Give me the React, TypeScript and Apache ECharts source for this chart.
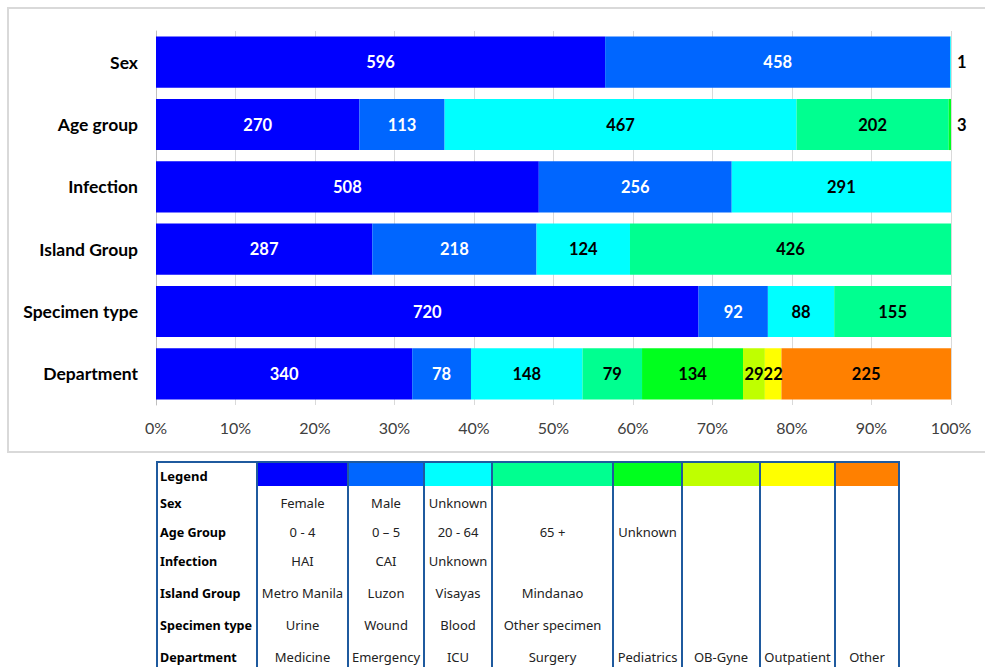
import React, { useEffect, useRef } from "react";
import * as echarts from "echarts";

const categories = ["Sex", "Age group", "Infection", "Island Group", "Specimen type", "Department"];
const sexCounts = [596, 458, 1];
const ageCounts = [270, 113, 467, 202, 3];
const infectionCounts = [508, 256, 291];
const islandCounts = [287, 218, 124, 426];
const specimenCounts = [720, 92, 88, 155];
const departmentCounts = [340, 78, 148, 79, 134, 29, 22, 225];
const allCounts = [sexCounts, ageCounts, infectionCounts, islandCounts, specimenCounts, departmentCounts];

const groupColors = ["#0000FF", "#0066FF", "#00FFFF", "#00FF90", "#00FF1E", "#BFFF00", "#FFFF00", "#FF8000"];
const labelColors = ["#FFFFFF", "#FFFFFF", "#000000", "#000000", "#000000", "#000000", "#000000", "#000000"];
const xTicks = [0, 10, 20, 30, 40, 50, 60, 70, 80, 90, 100];

const legendRowNames = ["Sex", "Age Group", "Infection", "Island Group", "Specimen type", "Department"];
const legendCol1 = ["Female", "0 - 4", "HAI", "Metro Manila", "Urine", "Medicine"];
const legendCol2 = ["Male", "0 – 5", "CAI", "Luzon", "Wound", "Emergency"];
const legendCol3 = ["Unknown", "20 - 64", "Unknown", "Visayas", "Blood", "ICU"];
const legendCol4 = ["", "65 +", "", "Mindanao", "Other specimen", "Surgery"];
const legendCol5 = ["", "Unknown", "", "", "", "Pediatrics"];
const legendCol6 = ["", "", "", "", "", "OB-Gyne"];
const legendCol7 = ["", "", "", "", "", "Outpatient"];
const legendCol8 = ["", "", "", "", "", "Other"];
const legendCols = [legendCol1, legendCol2, legendCol3, legendCol4, legendCol5, legendCol6, legendCol7, legendCol8];

export default function App() {
  const ref = useRef<HTMLDivElement>(null);
  useEffect(() => {
    if (!ref.current) return;
    const chart = echarts.init(ref.current, null, { renderer: "svg" });
    const totals = allCounts.map((a) => a.reduce((s, v) => s + v, 0));

    const series = groupColors.map((color, gi) => ({
      name: "G" + (gi + 1),
      type: "bar",
      stack: "total",
      barCategoryGap: "18%",
      itemStyle: { color },
      data: allCounts.map((counts, ci) => {
        const raw = counts[gi];
        if (raw === undefined) return { value: null, raw: null };
        const pct = (raw / totals[ci]) * 100;
        const tiny = pct < 1;
        return {
          value: pct,
          raw,
          label: tiny
            ? { position: "right", distance: 6, color: "#000" }
            : { position: "inside", color: labelColors[gi] },
        };
      }),
      label: {
        show: true,
        fontFamily: "Lato",
        fontWeight: "bold",
        fontSize: 16.5,
        formatter: (p: any) => (p.data && p.data.raw != null ? String(p.data.raw) : ""),
      },
    }));

    const colEdges = [157, 257, 348, 424, 492, 613, 682, 760, 835, 899];
    const rowY = [503, 532, 561, 593, 625, 657];
    const lineColor = "#1F5A9E";
    const graphics: any[] = [];
    graphics.push({
      type: "rect",
      shape: { x: 8, y: 8, width: 990, height: 444 },
      style: { fill: "none", stroke: "#D9D9D9", lineWidth: 2 },
      silent: true,
    });
    groupColors.forEach((c, i) => {
      graphics.push({
        type: "rect",
        shape: { x: colEdges[i + 1] + 1, y: 463, width: colEdges[i + 2] - colEdges[i + 1] - 2, height: 23 },
        style: { fill: c },
      });
    });
    graphics.push({
      type: "text",
      x: 160,
      y: 476,
      style: { text: "Legend", fontFamily: "Noto Sans", fontWeight: "bold", fontSize: 13, fill: "#000", verticalAlign: "middle" },
    });
    legendRowNames.forEach((n, ri) => {
      graphics.push({
        type: "text",
        x: 160,
        y: rowY[ri],
        style: { text: n, fontFamily: "Noto Sans", fontWeight: "bold", fontSize: 12.6, fill: "#000", verticalAlign: "middle" },
      });
    });
    legendCols.forEach((col, ci) => {
      const cx = (colEdges[ci + 1] + colEdges[ci + 2]) / 2;
      col.forEach((t, ri) => {
        if (!t) return;
        graphics.push({
          type: "text",
          x: cx,
          y: rowY[ri],
          style: { text: t, fontFamily: "Noto Sans", fontSize: 13, fill: "#222", align: "center", verticalAlign: "middle" },
        });
      });
    });
    graphics.push({
      type: "line",
      shape: { x1: colEdges[0] - 1, y1: 462, x2: colEdges[colEdges.length - 1] + 1, y2: 462 },
      style: { stroke: lineColor, lineWidth: 2 },
    });
    colEdges.forEach((x) => {
      graphics.push({
        type: "line",
        shape: { x1: x, y1: 461, x2: x, y2: 667 },
        style: { stroke: lineColor, lineWidth: 2 },
      });
    });

    chart.setOption({
      animation: false,
      backgroundColor: "#fff",
      grid: { left: 156, right: 34, top: 31, bottom: 262, containLabel: false },
      xAxis: {
        type: "value",
        min: xTicks[0],
        max: xTicks[xTicks.length - 1],
        interval: 10,
        axisLine: { show: false },
        axisTick: { show: false },
        splitLine: { show: true, lineStyle: { color: "#D9D9D9", width: 1 } },
        axisLabel: { formatter: "{value}%", fontFamily: "Lato", fontSize: 16, color: "#404040", margin: 14 },
      },
      yAxis: {
        type: "category",
        data: categories,
        inverse: true,
        axisLine: { show: true, lineStyle: { color: "#BFBFBF" } },
        axisTick: { show: false },
        axisLabel: { fontFamily: "Lato", fontWeight: "bold", fontSize: 17.5, color: "#000", margin: 18 },
      },
      series,
      graphic: graphics,
    });
    return () => chart.dispose();
  }, []);
  return <div ref={ref} style={{ position: "absolute", left: 0, top: 0, width: 985, height: 667 }} />;
}
